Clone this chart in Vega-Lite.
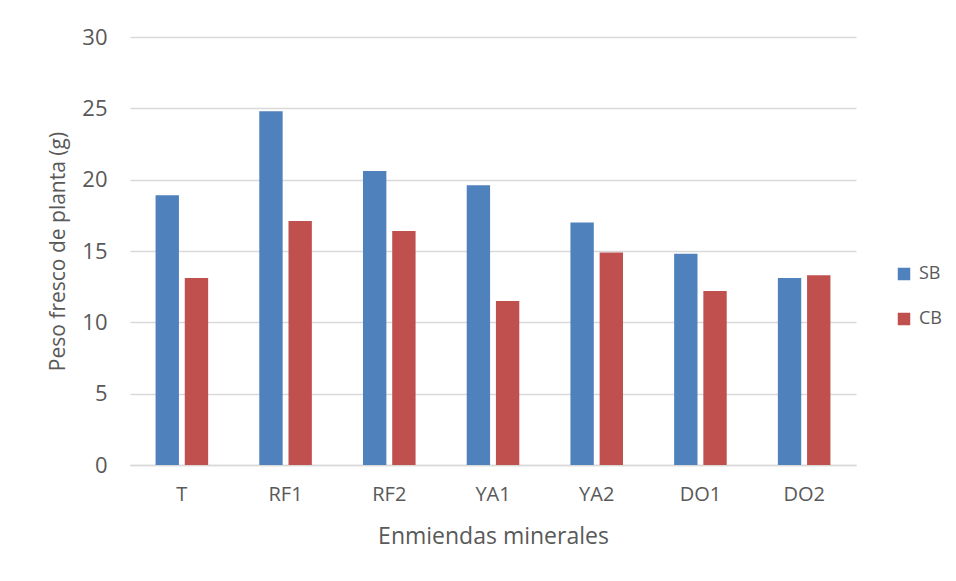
{
  "$schema": "https://vega.github.io/schema/vega-lite/v6.json",
  "width": 726,
  "height": 428,
  "autosize": {"type": "none"},
  "padding": {"left": 130, "top": 37, "right": 100, "bottom": 116},
  "background": "#ffffff",
  "data": {
    "values": [
      {"enmienda": "T", "serie": "SB", "peso": 18.9},
      {"enmienda": "T", "serie": "CB", "peso": 13.1},
      {"enmienda": "RF1", "serie": "SB", "peso": 24.8},
      {"enmienda": "RF1", "serie": "CB", "peso": 17.1},
      {"enmienda": "RF2", "serie": "SB", "peso": 20.6},
      {"enmienda": "RF2", "serie": "CB", "peso": 16.4},
      {"enmienda": "YA1", "serie": "SB", "peso": 19.6},
      {"enmienda": "YA1", "serie": "CB", "peso": 11.5},
      {"enmienda": "YA2", "serie": "SB", "peso": 17.0},
      {"enmienda": "YA2", "serie": "CB", "peso": 14.9},
      {"enmienda": "DO1", "serie": "SB", "peso": 14.8},
      {"enmienda": "DO1", "serie": "CB", "peso": 12.2},
      {"enmienda": "DO2", "serie": "SB", "peso": 13.1},
      {"enmienda": "DO2", "serie": "CB", "peso": 13.3}
    ]
  },
  "mark": {"type": "bar"},
  "encoding": {
    "x": {
      "field": "enmienda",
      "type": "nominal",
      "sort": ["T", "RF1", "RF2", "YA1", "YA2", "DO1", "DO2"],
      "scale": {"paddingInner": 0.493, "paddingOuter": 0.2465},
      "axis": {
        "title": "Enmiendas minerales",
        "labelAngle": 0,
        "ticks": false,
        "domain": true,
        "domainColor": "#d9d9d9",
        "domainWidth": 1.3,
        "labelPadding": 19,
        "titlePadding": 21,
        "titleFontSize": 23
      }
    },
    "xOffset": {
      "field": "serie",
      "type": "nominal",
      "sort": ["SB", "CB"],
      "scale": {"paddingInner": 0.2, "paddingOuter": 0}
    },
    "y": {
      "field": "peso",
      "type": "quantitative",
      "scale": {"domain": [0, 30], "nice": false},
      "axis": {
        "title": "Peso fresco de planta (g)",
        "values": [0, 5, 10, 15, 20, 25, 30],
        "ticks": false,
        "domain": false,
        "labelPadding": 23,
        "labelFontSize": 22,
        "titlePadding": 13,
        "titleFontSize": 21
      }
    },
    "color": {
      "field": "serie",
      "type": "nominal",
      "sort": ["SB", "CB"],
      "scale": {"domain": ["SB", "CB"], "range": ["#4f81bd", "#c0504d"]},
      "legend": {
        "title": null,
        "orient": "none",
        "legendX": 765,
        "legendY": 228,
        "symbolType": "square",
        "symbolSize": 156,
        "symbolStrokeWidth": 0,
        "rowPadding": 27,
        "labelFontSize": 18,
        "labelColor": "#595959",
        "labelOffset": 6,
        "labelFont": "Open Sans"
      }
    }
  },
  "config": {
    "font": "Open Sans",
    "view": {"stroke": null},
    "axis": {
      "labelFont": "Open Sans",
      "titleFont": "Open Sans",
      "labelFontSize": 20,
      "titleFontWeight": "normal",
      "labelColor": "#595959",
      "titleColor": "#595959",
      "gridColor": "#d9d9d9",
      "gridWidth": 1.3
    },
    "axisX": {"grid": false},
    "axisY": {"grid": true}
  }
}
